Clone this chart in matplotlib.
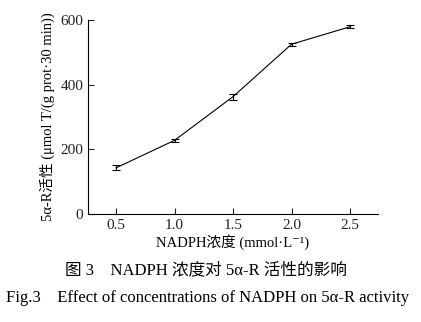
import matplotlib
matplotlib.use('Agg')
import matplotlib.pyplot as plt

conc = [0.5, 1.0, 1.5, 2.0, 2.5]
activity = [143, 228, 363, 525, 579]
err = [8, 4, 9, 5, 5]
xticks = [0.5, 1.0, 1.5, 2.0, 2.5]
yticks = [0, 200, 400, 600]

FAM = ['Liberation Serif', 'Noto Sans CJK SC', 'DejaVu Serif']
plt.rcParams['font.family'] = FAM


def main():
    fig = plt.figure(figsize=(4.21, 3.22), dpi=100)
    ax = fig.add_axes([0.209, 0.335, 0.689, 0.603])
    ax.errorbar(conc, activity, yerr=err, color='black', lw=0.8,
                capsize=3, elinewidth=0.8, capthick=0.8)
    ax.set_xlim(0.26, 2.74)
    ax.set_ylim(0, 600)
    ax.set_xticks(xticks)
    ax.set_xticklabels(['%.1f' % v for v in xticks])
    ax.set_yticks(yticks)
    for s in ('top', 'right'):
        ax.spines[s].set_visible(False)
    for s in ('left', 'bottom'):
        ax.spines[s].set_linewidth(0.8)
    ax.tick_params(direction='in', length=4, width=0.8, labelsize=11,
                   colors='#222222')
    ax.set_xlabel('NADPH浓度 (mmol·L⁻¹)', fontsize=10.5, labelpad=2)
    ax.set_ylabel('5α-R活性 (μmol T/(g prot·30 min))', fontsize=10.5,
                  labelpad=4)
    fig.text(0.49, 1 - 270/322, '图 3    NADPH 浓度对 5α-R 活性的影响',
             ha='center', va='center', fontsize=12)
    fig.text(0.492, 1 - 298/322,
             'Fig.3    Effect of concentrations of NADPH on 5α-R activity',
             ha='center', va='center', fontsize=12)
    fig.savefig('out.png', dpi=100)
    plt.close('all')


if __name__ == '__main__':
    main()
